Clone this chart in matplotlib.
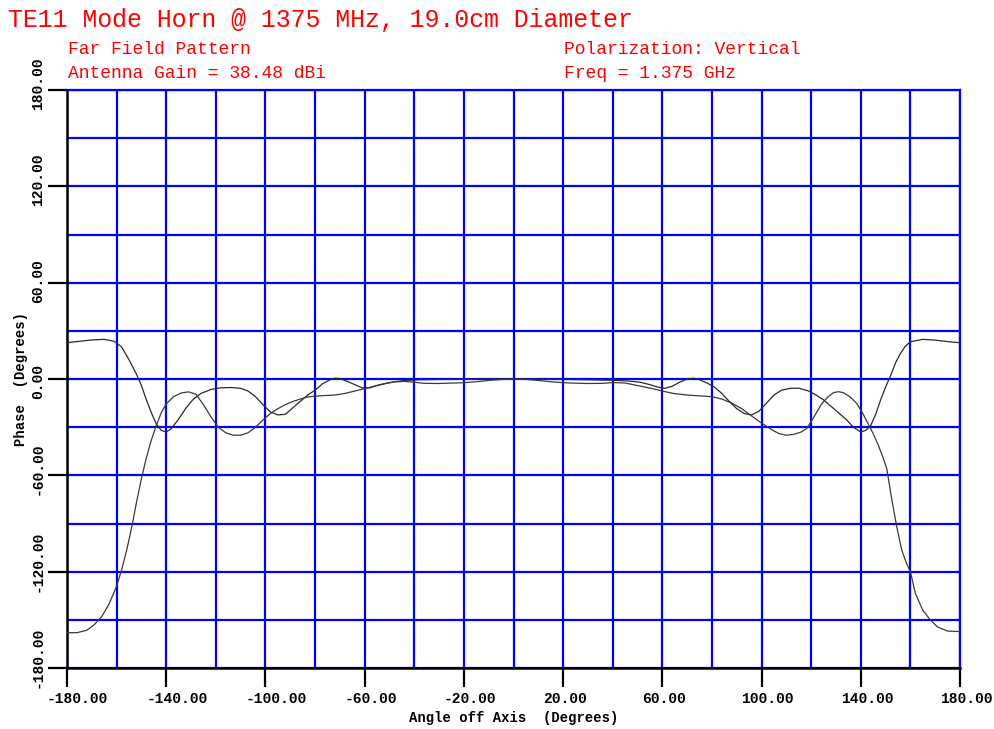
"""
TE11 horn far field phase plot
"""
import matplotlib
matplotlib.use("Agg")
import matplotlib.pyplot as plt
import matplotlib.transforms as mtransforms

# phase curve that starts near +23 deg at the edges
angle_a = [-180, -175, -170, -165, -161, -158, -155, -152, -150, -148, -146, -144,
           -142, -140, -138, -135, -132, -129, -126, -122, -118, -114, -110, -107,
           -104, -101, -98, -95, -92, -89, -86, -83, -80, -77, -74, -72, -70, -67,
           -64, -61, -58, -55, -51, -47, -43, -38, -30, -20, -10, 0,
           10, 20, 30, 40, 46, 51, 55, 58, 61, 64, 67, 70, 72.5, 75, 78, 81, 84,
           87, 90, 93, 96, 99, 102, 105, 108, 111.5, 115, 119, 122, 125, 128, 131,
           134, 137, 140, 142, 144, 146, 148, 150, 152, 154, 156, 158, 160, 165,
           170, 175, 180]
phase_a = [22.6, 23.5, 24.3, 24.7, 23.5, 20, 12, 3, -4, -13, -21, -28,
           -32, -33, -31, -25, -18, -12.5, -9, -6.5, -5.5, -5.3, -5.8, -7.5,
           -11, -16, -20.5, -22.4, -22, -18, -14, -10, -7, -3, -0.5, 0.5, 0.3, -1.5,
           -3.5, -5.5, -5.5, -4, -2.5, -1.5, -0.8, -0.5, -0.3, -0.2, -0.1, 0,
           -0.1, -0.3, -0.5, -0.8, -1.2, -2, -3.5, -5, -5.8, -4.5, -2, 0, 0.5, -0.5,
           -2.5, -5, -9, -14, -18.5, -21.5, -22.4, -20, -15, -10, -7, -5.8, -5.7,
           -7.5, -10, -13, -17, -21, -25, -30, -33, -32, -29, -22, -13, -5, 2,
           10, 16, 20.5, 23.2, 24.7, 24.2, 23.3, 22.6]

# phase curve that starts near -158 deg at the edges
angle_b = [-180, -176, -172, -169, -166, -163, -160, -158, -156, -154, -152, -150,
           -148, -146, -144, -142, -140, -137, -134, -131, -128, -125, -122, -119,
           -116, -113, -110, -107, -104, -101, -98, -95, -92, -89, -86, -83, -80,
           -76, -72, -68, -64, -60, -56, -52, -48, -44, -40, -36, -30, -24, -20,
           -15, -10, -5, 0,
           5, 10, 15, 20, 25, 30, 36, 40, 45, 51, 56, 60, 64.5, 70, 75, 80, 84,
           88, 92, 96, 100, 104, 107, 110, 113, 116, 118.3, 121, 124, 126.5, 129,
           131, 133, 136, 138.5, 141, 143, 145, 147, 149, 150.5, 152.5, 154.5,
           156.5, 158.5, 160, 162, 165, 168, 171, 175, 180]
phase_b = [-158, -158, -156.5, -153, -148, -140, -129, -119, -107, -93, -77, -62,
           -49, -38, -29, -21, -15.5, -11, -8.7, -8, -9.5, -16, -23.5, -30,
           -33.5, -35, -35, -33.5, -30, -25.5, -21.5, -18.5, -16, -14, -12.5, -11.2,
           -10.7, -10.3, -10, -9, -7.5, -6, -4.5, -3, -1.8, -1.5, -2, -2.7, -2.8,
           -2.5, -2.3, -1.7, -0.9, -0.3, 0,
           -0.3, -0.9, -1.7, -2.3, -2.6, -2.8, -2.7, -2.2, -2.5, -4.4, -6, -7.5,
           -9, -10, -10.5, -11, -12.5, -15, -18.5, -23, -27.5, -31.5, -34, -35,
           -34.5, -33, -30.7, -24, -16, -11.5, -8.5, -7.9, -8.5, -11.5, -15.5,
           -22, -28, -34, -41, -49, -56, -75, -92, -106.5, -115, -120, -133.5,
           -144, -150, -154.5, -157, -157.3]

x_ticks = [-180, -140, -100, -60, -20, 20, 60, 100, 140, 180]
x_labels = ["-180.00", "-140.00", "-100.00", "-60.00", "-20.00",
            "20.00", "60.00", "100.00", "140.00", "180.00"]
y_ticks = [-180, -120, -60, 0, 60, 120, 180]
y_labels = ["-180.00", "-120.00", "-60.00", "0.00", "60.00", "120.00", "180.00"]
x_grid = list(range(-180, 181, 20))
y_grid = list(range(-180, 181, 30))

W, H = 995, 729
fig = plt.figure(figsize=(W / 100, H / 100), dpi=100)
ax = fig.add_axes([67 / W, (H - 668) / H, (960 - 67) / W, (668 - 90) / H])

mono = "Liberation Mono"
tick_font = dict(family=mono, weight="bold", size=10.5)

ax.plot(angle_a, phase_a, color="#2a2a2a", lw=0.9, zorder=3)
ax.plot(angle_b, phase_b, color="#3a3a3a", lw=0.9, zorder=3)

ax.set_xlim(-180, 180)
ax.set_ylim(-180, 180)
ax.set_xticks(x_ticks)
ax.set_xticklabels(x_labels, fontdict=tick_font)
ax.set_yticks(y_ticks)
ax.set_yticklabels(y_labels, fontdict=tick_font, rotation=90)
ax.set_xticks(x_grid, minor=True)
ax.set_yticks(y_grid, minor=True)
ax.tick_params(which="major", length=14, width=1.6, color="black")
ax.tick_params(axis="x", which="major", pad=3)
ax.tick_params(axis="y", which="major", pad=2)
ax.tick_params(which="minor", length=0)
ax.grid(which="both", color="#0000ff", lw=1.6)
ax.set_axisbelow(True)

# the old plotter starts each label 20 px before its tick
shift_x = mtransforms.ScaledTranslation(-0.20, 0, fig.dpi_scale_trans)
for lab in ax.get_xticklabels():
    lab.set_horizontalalignment("left")
    lab.set_transform(lab.get_transform() + shift_x)
shift_y = mtransforms.ScaledTranslation(0, -0.20, fig.dpi_scale_trans)
for lab in ax.get_yticklabels():
    lab.set_verticalalignment("bottom")
    lab.set_transform(lab.get_transform() + shift_y)

for side in ["left", "bottom"]:
    ax.spines[side].set_color("black")
    ax.spines[side].set_linewidth(1.8)
for side in ["top", "right"]:
    ax.spines[side].set_color("#0000ff")
    ax.spines[side].set_linewidth(1.6)

ax.set_xlabel("Angle off Axis  (Degrees)", family=mono, weight="bold", size=10, labelpad=4)
ax.set_ylabel("Phase  (Degrees)", family=mono, weight="bold", size=10, labelpad=2)

red = "#ff0000"
fig.text(8 / W, 1 - 20 / H, "TE11 Mode Horn @ 1375 MHz, 19.0cm Diameter",
         color=red, family=mono, size=17.9, va="center")
fig.text(68 / W, 1 - 50 / H, "Far Field Pattern", color=red, family=mono, size=13, va="center")
fig.text(68 / W, 1 - 73 / H, "Antenna Gain = 38.48 dBi", color=red, family=mono, size=13, va="center")
fig.text(564 / W, 1 - 50 / H, "Polarization: Vertical", color=red, family=mono, size=13, va="center")
fig.text(564 / W, 1 - 73 / H, "Freq = 1.375 GHz", color=red, family=mono, size=13, va="center")

fig.savefig("out.png", dpi=100)
